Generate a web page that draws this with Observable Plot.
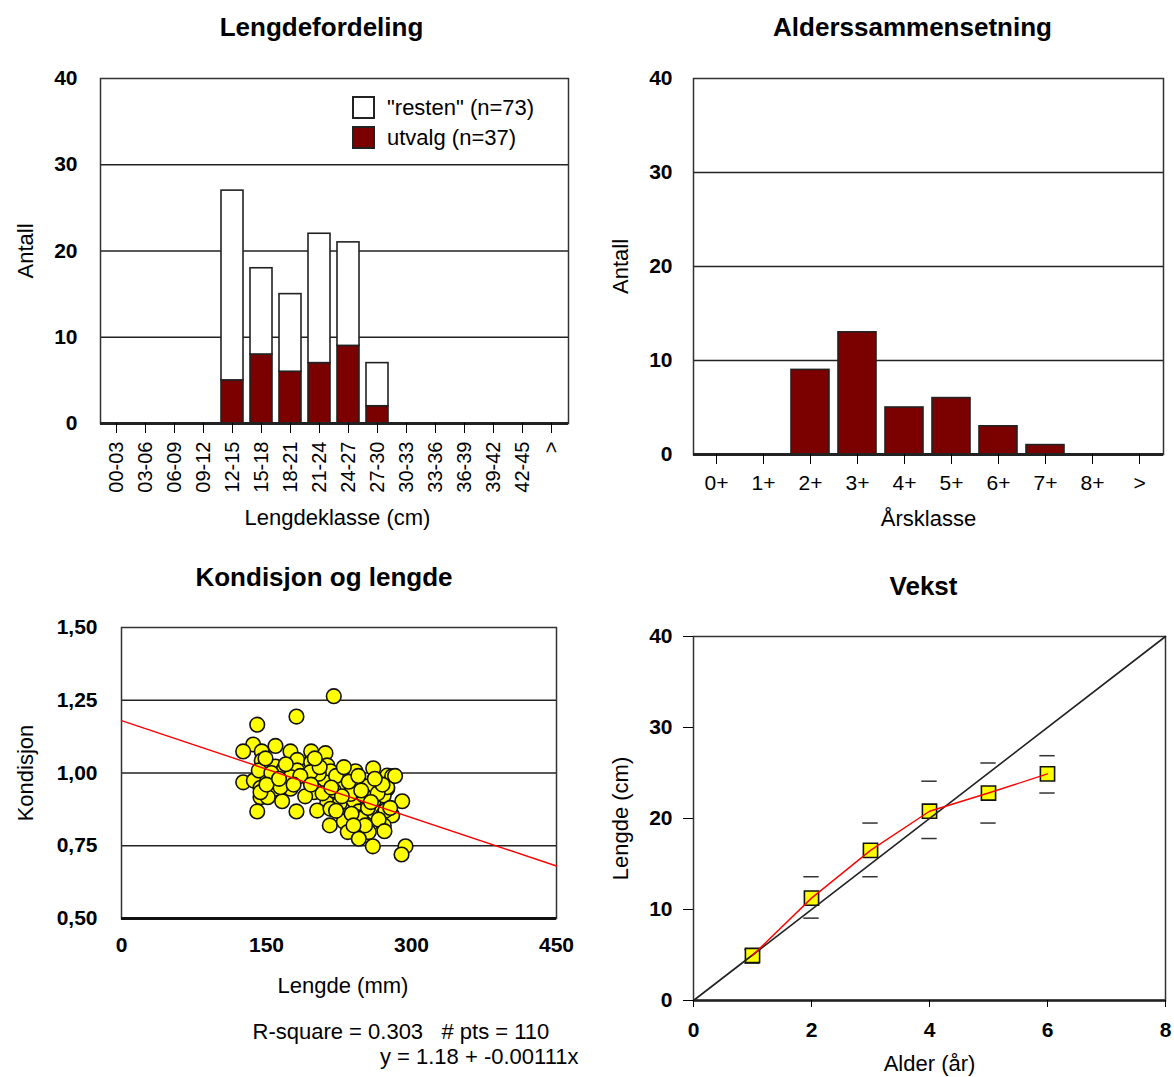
<!DOCTYPE html>
<html>
<head>
<meta charset="utf-8">
<script src="https://cdn.jsdelivr.net/npm/d3@7"></script>
<script src="https://cdn.jsdelivr.net/npm/@observablehq/plot@0.6"></script>
<style>
  body { margin: 0; background: #fff; }
  #wrap { position: relative; width: 1174px; height: 1077px; background: #fff; font-family: "Liberation Sans", Arial, sans-serif; overflow: hidden; }
  .panel { position: absolute; }
  .leg { position: absolute; left: 352px; height: 23px; display: flex; align-items: center; color: #000; }
  .box { width: 23px; height: 23px; box-sizing: border-box; border: 2px solid #222; }
  .lt { margin-left: 12px; font-size: 22px; line-height: 23px; white-space: nowrap; }
</style>
</head>
<body>
<div id="wrap"></div>
<script>
// ---------- Data ----------
// Lengdefordeling
const lengdeklasser = ["00-03","03-06","06-09","09-12","12-15","15-18","18-21","21-24","24-27","27-30","30-33","33-36","36-39","39-42","42-45",">"];
const utvalg = [0,0,0,0,5,8,6,7,9,2,0,0,0,0,0,0];
const resten = [0,0,0,0,22,10,9,15,12,5,0,0,0,0,0,0];

// Alderssammensetning
const aarsklasser = ["0+","1+","2+","3+","4+","5+","6+","7+","8+",">"];
const antallAlder = [0,0,9,13,5,6,3,1,0,0];

// Kondisjon og lengde
const lengdeMm = [219.6,181.0,140.4,136.2,125.9,145.1,159.3,174.8,196.2,211.0,
  145.1,181.8,196.2,159.3,212.8,145.6,167.9,181.8,205.1,216.2,
  230.0,242.1,260.4,274.9,280.0,125.9,136.9,150.7,174.8,195.5,
  211.0,226.6,240.3,254.2,274.9,143.8,160.0,174.8,200.7,219.6,
  143.8,151.3,166.2,212.8,225.8,240.3,261.0,271.3,290.4,140.4,
  181.0,202.4,216.2,245.5,261.0,271.3,280.0,215.5,230.0,245.5,
  271.3,234.1,255.8,245.5,260.0,293.8,289.7,142.0,204.1,164.5,
  143.8,195.5,149.0,274.9,199.0,236.9,250.7,273.1,247.3,205,
  222,235,248,265,270,255,238,228,185,170,
  155,150,190,208,222,266,278,283,262,245,
  230,217,196,178,163,252,272,240,258,200];
const kondisjon = [1.264,1.194,1.166,1.098,1.074,1.074,1.093,1.074,1.074,1.068,
  1.043,1.045,1.037,1.022,1.026,1.011,1.014,1.009,0.995,1.006,
  1.003,1.006,1.016,0.991,0.989,0.968,0.974,0.974,0.986,0.974,
  0.968,0.966,0.954,0.954,0.946,0.949,0.946,0.946,0.940,0.940,
  0.917,0.917,0.903,0.896,0.896,0.905,0.905,0.923,0.903,0.868,
  0.868,0.871,0.877,0.868,0.865,0.860,0.854,0.820,0.833,0.848,
  0.820,0.797,0.797,0.774,0.748,0.748,0.720,1.009,0.997,0.951,
  0.934,1.003,1.050,0.951,0.934,0.928,0.923,0.871,0.843,1.02,
  0.99,0.97,0.94,0.93,0.96,0.88,0.86,0.92,0.99,1.03,
  1.00,0.96,0.92,0.93,0.87,0.84,0.88,0.99,0.98,0.99,
  1.02,0.95,0.96,0.96,0.98,0.82,0.80,0.82,0.90,1.05];
const regA = 1.18, regB = -0.00111, rSquare = 0.303;
const lengdeTicks = [0,150,300,450];
const kondisjonTicks = [0.5,0.75,1.0,1.25,1.5];

// Vekst
const alder = [1,2,3,4,5,6];
const middelLengde = [4.95,11.25,16.5,20.8,22.8,24.9];
const lavLengde = [4.1,9.05,13.6,17.8,19.5,22.8];
const hoyLengde = [5.6,13.6,19.5,24.1,26.1,26.9];
const referanseAlder = [0,8];
const referanseLengde = [0,40];
const alderTicks = [0,2,4,6,8];

// ---------- Helpers ----------
const FONT = '"Liberation Sans", Arial, sans-serif';
const baseStyle = {fontFamily: FONT, fontSize: "21px", color: "#000", background: "transparent", overflow: "visible"};
const wrap = document.getElementById("wrap");
function place(svg, left, top) {
  const d = document.createElement("div");
  d.className = "panel";
  d.style.left = left + "px";
  d.style.top = top + "px";
  d.appendChild(svg);
  wrap.appendChild(d);
}
const lbl = (s, o) => Plot.text([s], {text: d => d, lineAnchor: "middle", ...o});
const ylbl = (s, o) => Plot.text([s], {text: d => d, frameAnchor: "left", rotate: -90, textAnchor: "middle", lineAnchor: "middle", fontSize: 22, ...o});

// ---------- Panel 1: Lengdefordeling ----------
const tabell1 = lengdeklasser.map((k, i) => ({klasse: k, utvalg: utvalg[i], resten: resten[i]}));
const p1 = Plot.plot({
  width: 587, height: 540,
  marginLeft: 100, marginRight: 19, marginTop: 78, marginBottom: 117,
  style: baseStyle,
  x: {domain: lengdeklasser, paddingInner: 0.24, paddingOuter: 0.12, label: null},
  y: {domain: [0, 40], label: null},
  marks: [
    Plot.gridY([10, 20, 30], {stroke: "#222", strokeOpacity: 1, strokeWidth: 1.3}),
    Plot.barY(tabell1.filter(d => d.utvalg > 0), {x: "klasse", y1: 0, y2: "utvalg", fill: "#7b0000", stroke: "#222", strokeWidth: 1.6}),
    Plot.barY(tabell1.filter(d => d.resten > 0), {x: "klasse", y1: "utvalg", y2: d => d.utvalg + d.resten, fill: "#fff", stroke: "#222", strokeWidth: 1.6}),
    Plot.frame({stroke: "#333", strokeWidth: 1.5}),
    Plot.ruleY([0], {stroke: "#222", strokeWidth: 3}),
    Plot.axisY({ticks: [0, 10, 20, 30, 40], tickSize: 0, tickPadding: 23, fontWeight: "bold", fontSize: 21, label: null}),
    Plot.axisX({tickSize: 10, tickPadding: 8, tickRotate: -90, fontSize: 20, label: null}),
    lbl("Lengdefordeling", {frameAnchor: "top", dy: -51, dx: -13, fontSize: 26, fontWeight: "bold"}),
    ylbl("Antall", {dx: -75}),
    lbl("Lengdeklasse (cm)", {frameAnchor: "bottom", dy: 94, dx: 3, fontSize: 22})
  ]
});
place(p1, 0, 0);

// legend
[["\"resten\" (n=" + d3.sum(resten) + ")", "#fff", 96], ["utvalg (n=" + d3.sum(utvalg) + ")", "#7b0000", 126]].forEach(([t, c, top]) => {
  const row = document.createElement("div");
  row.className = "leg";
  row.style.top = top + "px";
  row.innerHTML = `<span class="box" style="background:${c}"></span><span class="lt"></span>`;
  row.querySelector(".lt").textContent = t;
  wrap.appendChild(row);
});

// ---------- Panel 2: Alderssammensetning ----------
const tabell2 = aarsklasser.map((k, i) => ({klasse: k, antall: antallAlder[i]}));
const p2 = Plot.plot({
  width: 587, height: 540,
  marginLeft: 106, marginRight: 11, marginTop: 78, marginBottom: 86,
  style: baseStyle,
  x: {domain: aarsklasser, paddingInner: 0.19, paddingOuter: 0.095, label: null},
  y: {domain: [0, 40], label: null},
  marks: [
    Plot.gridY([10, 20, 30], {stroke: "#222", strokeOpacity: 1, strokeWidth: 1.3}),
    Plot.barY(tabell2.filter(d => d.antall > 0), {x: "klasse", y: "antall", fill: "#7b0000", stroke: "#222", strokeWidth: 1.6}),
    Plot.frame({stroke: "#333", strokeWidth: 1.5}),
    Plot.ruleY([0], {stroke: "#222", strokeWidth: 3}),
    Plot.axisY({ticks: [0, 10, 20, 30, 40], tickSize: 0, tickPadding: 21, fontWeight: "bold", fontSize: 21, label: null}),
    Plot.axisX({tickSize: 10, tickPadding: 11, fontSize: 21, label: null}),
    lbl("Alderssammensetning", {frameAnchor: "top", dy: -51, dx: -16, fontSize: 26, fontWeight: "bold"}),
    ylbl("Antall", {dx: -73}),
    lbl("Årsklasse", {frameAnchor: "bottom", dy: 64, fontSize: 22})
  ]
});
place(p2, 587, 0);

// ---------- Panel 3: Kondisjon og lengde ----------
const punkter = lengdeMm.map((x, i) => ({lengde: x, kondisjon: kondisjon[i]}));
const regLinje = d3.extent(lengdeTicks).map(x => ({lengde: x, kondisjon: regA + regB * x}));
const fmtKomma = d => d.toFixed(2).replace(".", ",");
const p3 = Plot.plot({
  width: 587, height: 537,
  marginLeft: 121, marginRight: 31, marginTop: 87, marginBottom: 159,
  style: baseStyle,
  x: {domain: d3.extent(lengdeTicks), label: null},
  y: {domain: d3.extent(kondisjonTicks), label: null},
  marks: [
    Plot.gridY([0.75, 1.0, 1.25], {stroke: "#222", strokeOpacity: 1, strokeWidth: 1.3}),
    Plot.frame({stroke: "#333", strokeWidth: 1.5}),
    Plot.dot(punkter, {x: "lengde", y: "kondisjon", r: 7.3, fill: "#ffff00", stroke: "#111", strokeWidth: 1.6}),
    Plot.line(regLinje, {x: "lengde", y: "kondisjon", stroke: "#ff0000", strokeWidth: 1.4}),
    Plot.ruleY([0.5], {stroke: "#111", strokeWidth: 3}),
    Plot.axisY({ticks: kondisjonTicks, tickSize: 0, tickPadding: 24, fontWeight: "bold", fontSize: 21, tickFormat: fmtKomma, label: null}),
    Plot.axisX({ticks: lengdeTicks, tickSize: 0, tickPadding: 19, fontWeight: "bold", fontSize: 21, label: null}),
    lbl("Kondisjon og lengde", {frameAnchor: "top", dy: -50, dx: -15, fontSize: 26, fontWeight: "bold"}),
    ylbl("Kondisjon", {dx: -96}),
    lbl("Lengde (mm)", {frameAnchor: "bottom", dy: 67, dx: 4, fontSize: 22}),
    lbl("R-square = " + rSquare.toFixed(3) + "\u00a0\u00a0\u00a0# pts = " + punkter.length, {frameAnchor: "bottom-left", textAnchor: "start", dx: 131, dy: 113, fontSize: 22}),
    lbl("y = " + regA.toFixed(2) + " + " + regB.toFixed(5) + "x", {frameAnchor: "bottom-right", textAnchor: "end", dx: 22, dy: 138, fontSize: 22})
  ]
});
place(p3, 0, 540);

// ---------- Panel 4: Vekst ----------
const vekst = alder.map((a, i) => ({alder: a, lengde: middelLengde[i], lav: lavLengde[i], hoy: hoyLengde[i]}));
const referanse = referanseAlder.map((a, i) => ({alder: a, lengde: referanseLengde[i]}));
const p4 = Plot.plot({
  width: 587, height: 537,
  marginLeft: 106, marginRight: 9, marginTop: 96, marginBottom: 77,
  style: baseStyle,
  x: {domain: d3.extent(alderTicks), label: null},
  y: {domain: [0, 40], label: null},
  marks: [
    Plot.frame({stroke: "#333", strokeWidth: 1.5}),
    Plot.ruleY(vekst, {y: "lav", x1: d => d.alder - 0.13, x2: d => d.alder + 0.13, stroke: "#333", strokeWidth: 1.5}),
    Plot.ruleY(vekst, {y: "hoy", x1: d => d.alder - 0.13, x2: d => d.alder + 0.13, stroke: "#333", strokeWidth: 1.5}),
    Plot.dot(vekst, {x: "alder", y: "lengde", symbol: "square", r: 8, fill: "#ffff00", stroke: "#111", strokeWidth: 1.6}),
    Plot.line(referanse, {x: "alder", y: "lengde", stroke: "#222", strokeWidth: 1.6}),
    Plot.line(vekst, {x: "alder", y: "lengde", stroke: "#ff0000", strokeWidth: 1.4}),
    Plot.ruleY([0], {stroke: "#222", strokeWidth: 2.5}),
    Plot.axisY({ticks: [0, 10, 20, 30, 40], tickSize: 10, tickPadding: 11, fontWeight: "bold", fontSize: 21, label: null}),
    Plot.axisX({ticks: alderTicks, tickSize: 7, tickPadding: 15, fontWeight: "bold", fontSize: 21, label: null}),
    lbl("Vekst", {frameAnchor: "top", dy: -50, dx: -6, fontSize: 26, fontWeight: "bold"}),
    ylbl("Lengde (cm)", {dx: -73}),
    lbl("Alder (år)", {frameAnchor: "bottom", dy: 63, fontSize: 22})
  ]
});
place(p4, 587, 540);
</script>
</body>
</html>
